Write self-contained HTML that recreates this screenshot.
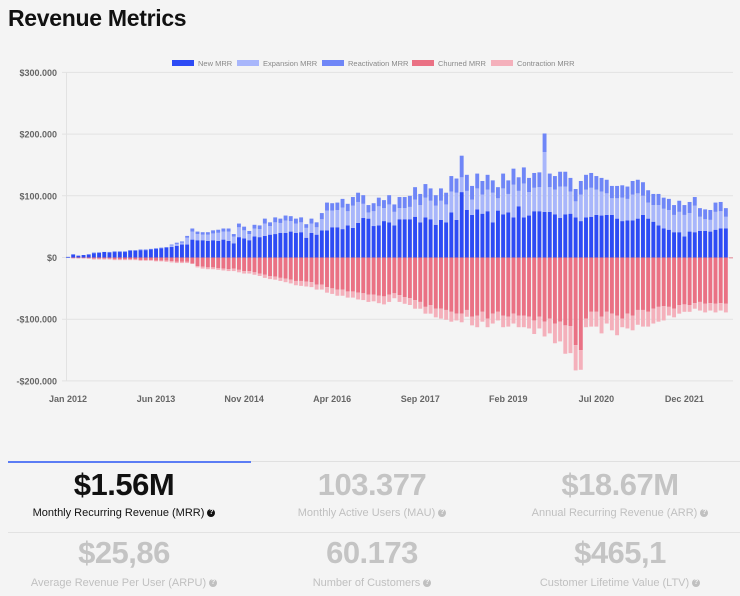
<!DOCTYPE html>
<html><head><meta charset="utf-8">
<style>
body{margin:0;background:#f4f4f4;width:740px;height:596px;overflow:hidden;font-family:"Liberation Sans",sans-serif;}
#title{position:absolute;left:8px;top:5px;font-size:23px;font-weight:bold;color:#111;letter-spacing:-0.3px;}
.kpi{position:absolute;width:248px;text-align:center;}
.val{font-size:31px;font-weight:bold;color:#c4c4c4;letter-spacing:-0.5px;}
.lab{font-size:11px;color:#c0c0c0;margin-top:4px;}
.q{display:inline-block;width:8px;height:8px;border-radius:50%;background:#c0c0c0;color:#f4f4f4;font-size:7px;line-height:8px;font-weight:bold;vertical-align:middle;margin-left:3px;}
</style></head><body>
<div id="title">Revenue Metrics</div>
<svg id="chart" width="740" height="440" style="position:absolute;left:0;top:0"></svg>
<div style="position:absolute;left:8px;top:461px;width:243px;height:2px;background:#5b7cf4"></div>
<div style="position:absolute;left:251px;top:461px;width:489px;height:1px;background:#e0e0e0"></div>
<div style="position:absolute;left:8px;top:532px;width:732px;height:1px;background:#e2e2e2"></div>
<div class="kpi" style="left:0;top:467px"><div class="val" style="color:#111">$1.56M</div><div class="lab" style="color:#111">Monthly Recurring Revenue (MRR)<span class="q" style="background:#111">?</span></div></div>
<div class="kpi" style="left:248px;top:467px"><div class="val">103.377</div><div class="lab">Monthly Active Users (MAU)<span class="q">?</span></div></div>
<div class="kpi" style="left:496px;top:467px"><div class="val">$18.67M</div><div class="lab">Annual Recurring Revenue (ARR)<span class="q">?</span></div></div>
<div class="kpi" style="left:0;top:535px"><div class="val">$25,86</div><div class="lab" style="margin-top:6px">Average Revenue Per User (ARPU)<span class="q">?</span></div></div>
<div class="kpi" style="left:248px;top:535px"><div class="val">60.173</div><div class="lab" style="margin-top:6px">Number of Customers<span class="q">?</span></div></div>
<div class="kpi" style="left:496px;top:535px"><div class="val">$465,1</div><div class="lab" style="margin-top:6px">Customer Lifetime Value (LTV)<span class="q">?</span></div></div>
<script>
const newMRR=[1,5,3,4,5,7,8,9,8,9,9,9, 11,11,12,12,13,14,15,16,17,19,21,21, 29,28,28,27,28,27,29,27,23,33,31,28, 34,33,35,37,38,40,40,42,40,41,32,40, 37,44,44,49,49,46,52,48,56,64,63,51,52,59,57,
52,62,62,62,66,57,65,62,53,61,57,73,61,106,77,69,78,71,75,57,76,70,73,65,83,65,68,75,75,74,74,70,64,70,71,65,59,65,66,69,68,69,69,63,59,60,60,63,69,63,58,52,47,45,41,41,34,42,41,43,43,42,45,47,47,0];
const expansionMRR=[0,0,0,0,0,0,0,0,0,0,0,0, 0,0,0,0,0,0,0,0,3,3,3,11, 13,10,9,10,11,13,13,15,11,16,13,10, 13,13,20,14,19,16,20,17,15,16,16,15, 12,18,32,27,28,35,23,36,34,23,10,24,31,21,29,
22,18,18,20,28,28,32,30,31,31,29,34,44,24,31,25,34,31,35,48,20,42,30,53,25,55,38,38,39,97,40,40,51,45,36,26,43,45,47,41,39,35,27,33,38,35,42,41,31,26,27,33,32,32,28,33,35,30,43,23,19,19,29,28,19,0];
const reactivationMRR=[0,0,0,0,0,1,0,0,1,1,1,1, 1,1,1,1,1,1,1,1,1,2,2,3, 5,4,4,4,5,5,5,5,4,6,6,5, 6,6,8,6,8,7,8,8,8,8,6,8, 8,10,13,12,12,14,12,14,15,14,12,13,14,13,15,
12,18,18,18,20,18,22,20,17,20,19,25,23,35,26,22,24,22,24,20,18,24,22,26,22,26,23,24,24,30,22,22,24,24,22,20,22,24,24,22,22,22,20,20,20,20,22,22,22,20,18,18,18,18,16,18,16,18,14,14,16,16,15,15,14,0];
const churnedMRR=[0,1,1,1,1,2,2,2,2,3,3,3, 3,3,4,4,4,5,5,5,6,7,7,7, 10,14,15,16,16,17,18,19,18,20,22,22, 24,26,28,30,31,33,34,36,38,38,39,40, 44,44,48,50,52,52,55,55,57,58,60,60,62,63,60,
58,61,64,66,69,72,80,77,83,83,85,88,91,91,85,96,94,88,99,91,88,94,96,91,94,94,96,102,96,104,99,107,104,110,111,142,150,99,88,88,96,88,91,94,99,91,94,85,85,88,83,80,79,80,83,77,76,77,74,72,75,74,75,74,75,1];
const contractionMRR=[0,0,0,0,1,1,1,1,1,1,1,1, 1,1,1,1,1,1,1,2,2,2,2,2, 0,2,3,3,3,3,3,3,4,4,4,4, 4,4,5,5,5,5,6,6,7,8,8,8, 8,8,9,9,10,10,10,10,11,11,12,11,12,13,12,
8,11,11,11,14,11,11,14,14,16,16,16,11,14,11,14,19,16,14,16,14,19,16,16,19,19,19,22,19,24,24,32,32,46,44,41,32,14,24,24,27,19,27,32,14,24,24,24,27,24,24,24,23,14,14,14,12,11,9,14,14,12,14,12,14,0];
const xTickLabels=["Jan 2012","Jun 2013","Nov 2014","Apr 2016","Sep 2017","Feb 2019","Jul 2020","Dec 2021"];
const xTickIndex=[0,17,34,51,68,85,102,119];
const yTicks=[300,200,100,0,-100,-200];
const yTickLabels=["$300.000","$200.000","$100.000","$0","-$100.000","-$200.000"];
const seriesNames=["New MRR","Expansion MRR","Reactivation MRR","Churned MRR","Contraction MRR"];
const seriesColors=["#2d4bf5","#a8b6fb","#6f86f7","#ea7184","#f4b0bb"];

const svg=document.getElementById('chart');
const NS='http://www.w3.org/2000/svg';
function yS(v){return 257.5-v*0.617;}
function xS(i){return 68+i*5.18;}
function mk(t,a){const e=document.createElementNS(NS,t);for(const k in a)e.setAttribute(k,a[k]);svg.appendChild(e);return e;}
yTicks.forEach((t,k)=>{
  const l=mk('line',{x1:62,x2:733,y1:yS(t),y2:yS(t),stroke:'#e2e2e2','stroke-width':1});
  
  
  const tx=mk('text',{x:57,y:yS(t)+3.5,'text-anchor':'end','font-size':9,'font-weight':'bold',fill:'#666','font-family':'Liberation Sans, sans-serif'});
  tx.textContent=yTickLabels[k];
  
  
});
const ax=mk('line',{x1:66.5,x2:66.5,y1:72,y2:381,stroke:'#e2e2e2'});


xTickLabels.forEach((s,k)=>{
  const tx=mk('text',{x:xS(xTickIndex[k]),y:402,'text-anchor':'middle','font-size':9,'font-weight':'bold',fill:'#666','font-family':'Liberation Sans, sans-serif'});
  tx.textContent=s;
  
  
});
const bw=3.9;
function bar(i,v0,v1,c,name){
  if(v1===v0)return;
  const y1=yS(Math.max(v0,v1)),y2=yS(Math.min(v0,v1));
  const r=mk('rect',{x:xS(i)-bw/2,y:y1,width:bw,height:Math.max(y2-y1,0.8),fill:c});
  
  
}
for(let i=0;i<newMRR.length;i++){
  let a=newMRR[i],b=a+expansionMRR[i],c=b+reactivationMRR[i];
  bar(i,0,a,seriesColors[0],'bar-new-mrr');
  bar(i,a,b,seriesColors[1],'bar-expansion-mrr');
  bar(i,b,c,seriesColors[2],'bar-reactivation-mrr');
  let d=-churnedMRR[i],e=d-contractionMRR[i];
  bar(i,0,d,seriesColors[3],'bar-churned-mrr');
  bar(i,d,e,seriesColors[4],'bar-contraction-mrr');
}
const legX=[172,237,322,412,491];
seriesNames.forEach((n,k)=>{
  const r=mk('rect',{x:legX[k],y:60,width:22,height:6,fill:seriesColors[k]});
  
  
  const t=mk('text',{x:legX[k]+26,y:66,'font-size':7.5,fill:'#888','font-family':'Liberation Sans, sans-serif'});
  t.textContent=n;
  
  
});
</script>
</body></html>
